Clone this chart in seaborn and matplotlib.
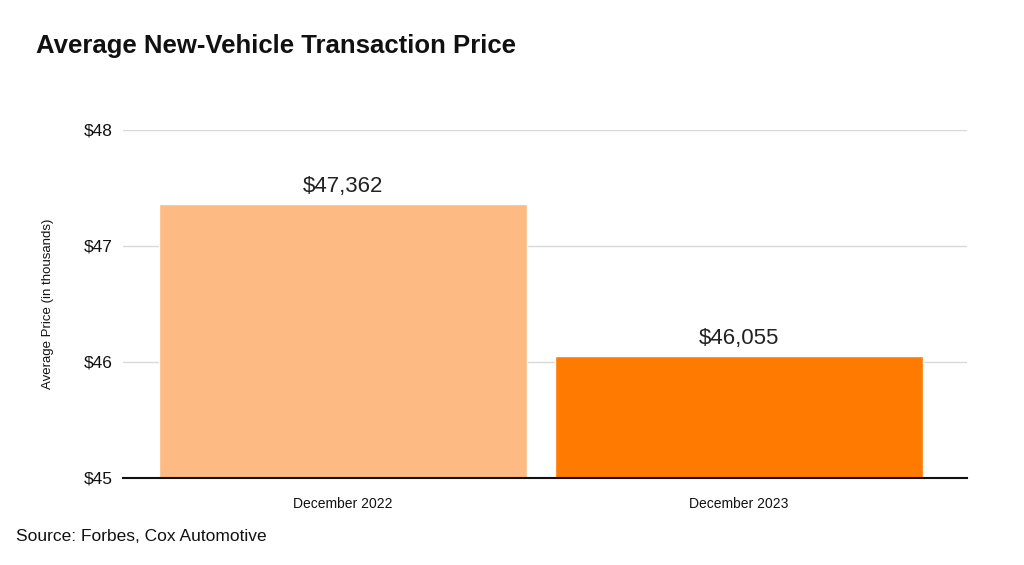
import matplotlib
matplotlib.use("Agg")
import matplotlib.pyplot as plt
import seaborn as sns
import pandas as pd

# ── DATA ──────────────────────────────────────────────────────────────────────

periods = ["December 2022", "December 2023"]
prices = [47362, 46055]
bar_colors = ["#FDBA82", "#FF7A00"]
y_ticks = [45, 46, 47, 48]
y_tick_labels = ["$45", "$46", "$47", "$48"]

df = pd.DataFrame({"period": periods, "price_k": [p / 1000 for p in prices]})

# ── STYLE ─────────────────────────────────────────────────────────────────────

sns.set_theme(style="white")
plt.rcParams["font.family"] = ["Liberation Sans", "DejaVu Sans"]

fig = plt.figure(figsize=(10.24, 5.65), dpi=100)
ax = fig.add_axes([0.120, 0.154, 0.824, 0.616])

sns.barplot(data=df, x="period", y="price_k", hue="period", palette=bar_colors,
            width=0.93, legend=False, ax=ax, saturation=1)

ax.set_ylim(45, 48)
ax.set_xlim(-0.556, 1.576)
ax.set_yticks(y_ticks)
ax.set_yticklabels(y_tick_labels, fontsize=12.5, color="#111111")
ax.tick_params(axis="x", labelsize=10, colors="#111111", length=0, pad=14)
ax.tick_params(axis="y", length=0, pad=7)
ax.grid(axis="y", color="#d9d9d9", linewidth=1)
ax.set_axisbelow(True)
for s in ["top", "right", "left"]:
    ax.spines[s].set_visible(False)
ax.spines["bottom"].set_color("#111111")
ax.spines["bottom"].set_linewidth(1.5)
ax.set_xlabel("")
ax.set_ylabel("Average Price (in thousands)", fontsize=9.5, color="#111111", labelpad=22)

for i, p in enumerate(prices):
    ax.annotate(f"${p:,}", (i, p / 1000), xytext=(0, 5), textcoords="offset points",
                ha="center", va="bottom", fontsize=16, color="#222222")

fig.text(0.035, 0.918, "Average New-Vehicle Transaction Price", fontsize=18.5,
         fontweight="bold", color="#111111", va="center")
fig.text(0.016, 0.051, "Source: Forbes, Cox Automotive", fontsize=12.5,
         color="#111111", va="center")

fig.savefig("out.png", dpi=100)
